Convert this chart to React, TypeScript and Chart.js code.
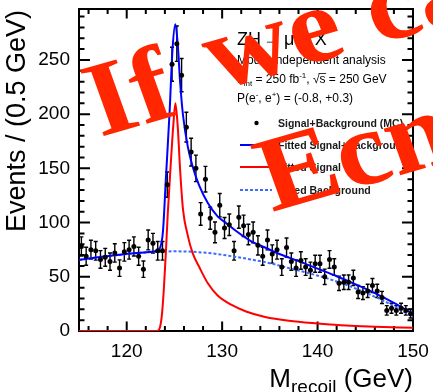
import React, { useEffect, useRef } from "react";
import { Chart, registerables } from "chart.js";

Chart.register(...registerables);

// ---------- data ----------
const binCenters = [
  115.25, 115.75, 116.25, 116.75, 117.25, 117.75, 118.25, 118.75, 119.25, 119.75,
  120.25, 120.75, 121.25, 121.75, 122.25, 122.75, 123.25, 123.75, 124.25, 124.75,
  125.25, 125.75, 126.25, 126.75, 127.25, 127.75, 128.25, 128.75, 129.25, 129.75,
  130.25, 130.75, 131.25, 131.75, 132.25, 132.75, 133.25, 133.75, 134.25, 134.75,
  135.25, 135.75, 136.25, 136.75, 137.25, 137.75, 138.25, 138.75, 139.25, 139.75,
  140.25, 140.75, 141.25, 141.75, 142.25, 142.75, 143.25, 143.75, 144.25, 144.75,
  145.25, 145.75, 146.25, 146.75, 147.25, 147.75, 148.25, 148.75, 149.25, 149.75,
];
const counts = [
  78, 69, 75, 74, 66, 68, 64, 72, 58, 73,
  75, 78, 69, 57, 84, 81, 74, 74, 135, 246,
  265, 236, 188, 165, 150, 108, 140, 104, 91, 116,
  95, 98, 74, 105, 97, 89, 91, 79, 69, 84,
  71, 75, 59, 77, 64, 58, 65, 59, 56, 62,
  62, 50, 66, 59, 44, 45, 45, 49, 36, 35,
  37, 42, 37, 31, 19, 21, 19, 21, 19, 16,
];

const totX = [115, 117, 119, 121, 123, 123.5, 123.8, 124.1, 124.5, 124.8, 125.1, 125.35, 125.6, 125.9, 126.4, 126.9, 127.6, 128.5, 129.5, 130.5, 131.5, 133, 134.5, 136, 138, 140, 142, 144, 146, 148, 150];
const totY = [65.5, 68, 70, 72, 73.5, 77, 92, 140, 203, 260, 283, 264, 229, 199, 170, 152, 134, 118, 106, 99, 92, 83, 77, 71, 64.5, 57.5, 50.5, 43, 35, 26, 16];

const sigX = [115, 123.2, 123.5, 123.7, 123.9, 124.1, 124.3, 124.6, 124.9, 125.1, 125.35, 125.6, 125.9, 126.4, 126.9, 127.6, 128.5, 129.5, 131, 132.5, 134.5, 137, 140, 143, 146, 150];
const sigY = [0, 0, 4, 16, 40, 72, 108, 152, 192, 210, 188, 148, 112, 88, 72, 59, 44, 33, 24, 18, 13, 9.5, 7, 5, 4, 3];

const bgX = [115, 117, 119, 121, 123, 125, 127, 129, 131, 133, 135, 137, 139, 141, 143, 145, 147, 149, 150];
const bgY = [65.5, 68, 70, 71.8, 73, 73.5, 73, 71.5, 69, 66, 62.5, 58, 53.5, 48.5, 42.5, 35.5, 27.5, 18, 13];

const xMajorTicks = [120, 130, 140, 150];
const xMinorTicks = [116, 118, 122, 124, 126, 128, 132, 134, 136, 138, 142, 144, 146, 148];
const yMajorTicks = [0, 50, 100, 150, 200, 250];
const yMinorTicks = [10, 20, 30, 40, 60, 70, 80, 90, 110, 120, 130, 140, 160, 170, 180, 190, 210, 220, 230, 240, 260, 270, 280, 290];

const SANS = "'Liberation Sans', Arial, Helvetica, sans-serif";
const SERIF = "'Liberation Serif', 'Times New Roman', serif";

const OV_SCALE = 1.117;
const OV_ANGLE = (-17.8 * Math.PI) / 180;

// draw a run of text pieces: [text, size, bold, dy]
function runText(ctx: CanvasRenderingContext2D, x: number, y: number, parts: [string, number, boolean?, number?][], color = "#000") {
  let cx = x;
  ctx.fillStyle = color;
  ctx.textBaseline = "alphabetic";
  ctx.textAlign = "left";
  for (const [s, size, bold, dy] of parts) {
    ctx.font = `${bold ? "bold " : ""}${size}px ${SANS}`;
    ctx.fillText(s, cx, y + (dy || 0));
    cx += ctx.measureText(s).width;
  }
  return cx;
}

function overlayText(ctx: CanvasRenderingContext2D, s: string, x: number, y: number) {
  ctx.save();
  ctx.translate(x, y);
  ctx.scale(OV_SCALE, 1);
  ctx.rotate(OV_ANGLE);
  ctx.fillText(s, 0, 0);
  ctx.restore();
  const w = ctx.measureText(s).width;
  return [x + OV_SCALE * w * Math.cos(OV_ANGLE), y + w * Math.sin(OV_ANGLE)];
}

const decor = {
  id: "decor",
  beforeDatasetsDraw(chart: any) {
    const { ctx, chartArea: a, scales } = chart;
    const xs = scales.x, ys = scales.y;
    ctx.save();
    ctx.strokeStyle = "#000";
    ctx.lineWidth = 2;
    ctx.strokeRect(a.left, a.top, a.right - a.left, a.bottom - a.top);
    ctx.beginPath();
    const xt = (v: number, len: number) => {
      const p = xs.getPixelForValue(v);
      ctx.moveTo(p, a.bottom); ctx.lineTo(p, a.bottom - len);
      ctx.moveTo(p, a.top); ctx.lineTo(p, a.top + len);
    };
    const yt = (v: number, len: number) => {
      const p = ys.getPixelForValue(v);
      ctx.moveTo(a.left, p); ctx.lineTo(a.left + len, p);
      ctx.moveTo(a.right, p); ctx.lineTo(a.right - len, p);
    };
    xMajorTicks.forEach((v) => xt(v, 9.5));
    xMinorTicks.forEach((v) => xt(v, 5));
    yMajorTicks.forEach((v) => yt(v, 11));
    yMinorTicks.forEach((v) => yt(v, 5.5));
    ctx.stroke();
    // error bars
    ctx.lineWidth = 1.4;
    ctx.beginPath();
    binCenters.forEach((c, i) => {
      const v = counts[i];
      const e = Math.sqrt(v);
      const px = xs.getPixelForValue(c);
      const t = ys.getPixelForValue(v + e);
      const b = ys.getPixelForValue(Math.max(0, v - e));
      ctx.moveTo(px, t); ctx.lineTo(px, b);
      ctx.moveTo(px - 2, t); ctx.lineTo(px + 2, t);
      ctx.moveTo(px - 2, b); ctx.lineTo(px + 2, b);
    });
    ctx.stroke();
    ctx.restore();
  },
  afterDraw(chart: any) {
    const { ctx } = chart;
    ctx.save();
    ctx.fillStyle = "#000";
    ctx.font = `27px ${SANS}`;
    ctx.save();
    ctx.translate(25, 10);
    ctx.rotate(-Math.PI / 2);
    ctx.textAlign = "right";
    ctx.textBaseline = "alphabetic";
    ctx.fillText("Events / (0.5 GeV)", 0, 0);
    ctx.restore();

    ctx.font = `26px ${SANS}`;
    const wM = ctx.measureText("M").width;
    const wG = ctx.measureText(" (GeV)").width;
    ctx.font = `19px ${SANS}`;
    const wR = ctx.measureText("recoil").width;
    const x0 = 413 - wM - wR - wG;
    runText(ctx, x0, 386.5, [["M", 26], ["recoil", 19, false, 6], [" (GeV)", 26]]);

    let xx = runText(ctx, 237, 45, [["ZH", 18]]);
    ctx.font = `18px ${SANS}`;
    xx += 2;
    ctx.fillText("\u2192", xx, 45);
    xx += ctx.measureText("\u2192").width + 3;
    runText(ctx, xx, 45, [["\u03bc", 18], ["+", 11, false, -7], ["\u03bc", 18], ["-", 11, false, -7], ["X", 18]]);

    runText(ctx, 237, 64, [["Model independent analysis", 12]]);
    let lx = runText(ctx, 237, 83, [["L", 12], ["int", 8, false, 3], [" = 250 fb", 12], ["-1", 8, false, -5], [", ", 12]]);
    ctx.font = `12px ${SANS}`;
    ctx.fillText("\u221a", lx, 83);
    lx += ctx.measureText("\u221a").width;
    const ws = ctx.measureText("s").width;
    ctx.fillText("s", lx, 83);
    ctx.strokeStyle = "#000";
    ctx.lineWidth = 0.8;
    ctx.beginPath();
    ctx.moveTo(lx - 1, 73.5);
    ctx.lineTo(lx + ws + 0.5, 73.5);
    ctx.stroke();
    runText(ctx, lx + ws, 83, [[" = 250 GeV", 12]]);
    runText(ctx, 237, 102, [["P(e", 12], ["-", 8, false, -5], [", e", 12], ["+", 8, false, -5], [") = (-0.8, +0.3)", 12]]);

    ctx.fillStyle = "#000";
    ctx.beginPath();
    ctx.arc(256.5, 123, 2.2, 0, Math.PI * 2);
    ctx.fill();
    ctx.lineWidth = 2;
    ctx.strokeStyle = "#0000ff";
    ctx.beginPath(); ctx.moveTo(240, 145); ctx.lineTo(272, 145); ctx.stroke();
    ctx.strokeStyle = "#ff0000";
    ctx.beginPath(); ctx.moveTo(240, 167); ctx.lineTo(272, 167); ctx.stroke();
    ctx.strokeStyle = "#3b6cff";
    ctx.setLineDash([3, 2]);
    ctx.beginPath(); ctx.moveTo(240, 190); ctx.lineTo(272, 190); ctx.stroke();
    ctx.setLineDash([]);
    runText(ctx, 278, 127, [["Signal+Background (MC)", 10.5, true]], "#1a1a1a");
    runText(ctx, 278, 149, [["Fitted Signal+Background", 10.5, true]], "#1a1a1a");
    runText(ctx, 278, 171, [["Fitted Signal", 10.5, true]], "#1a1a1a");
    runText(ctx, 278, 194, [["Fitted Background", 10.5, true]], "#1a1a1a");

    // red overlay text
    ctx.fillStyle = "rgb(255,38,0)";
    ctx.textAlign = "left";
    ctx.textBaseline = "alphabetic";
    ctx.font = `bold 106px ${SERIF}`;
    const [ex, ey] = overlayText(ctx, "If ", 100, 137);
    overlayText(ctx, "we can", ex + 8, ey - 15);
    overlayText(ctx, "Ecm", 272, 212);

    ctx.restore();
  },
};

export default function App() {
  const ref = useRef<HTMLCanvasElement>(null);
  useEffect(() => {
    document.body.style.margin = "0";
    const canvas = ref.current!;
    const pts = (xs: number[], ys: number[]) => xs.map((x, i) => ({ x, y: ys[i] }));
    const chart = new Chart(canvas, {
      type: "line",
      data: {
        datasets: [
          {
            label: "Signal+Background (MC)",
            data: pts(binCenters, counts),
            showLine: false,
            pointRadius: 2.5,
            pointBackgroundColor: "#000",
            pointBorderWidth: 0,
            order: 0,
          },
          {
            label: "Fitted Signal+Background",
            data: pts(totX, totY),
            borderColor: "#0000ff",
            borderWidth: 2,
            pointRadius: 0,
            cubicInterpolationMode: "monotone",
            order: 1,
          },
          {
            label: "Fitted Signal",
            data: pts(sigX, sigY),
            borderColor: "#ff0000",
            borderWidth: 2,
            pointRadius: 0,
            cubicInterpolationMode: "monotone",
            order: 2,
          },
          {
            label: "Fitted Background",
            data: pts(bgX, bgY),
            borderColor: "#3b6cff",
            borderWidth: 2,
            borderDash: [3, 2],
            pointRadius: 0,
            cubicInterpolationMode: "monotone",
            order: 3,
          },
        ],
      } as any,
      options: {
        responsive: false,
        animation: false,
        layout: { padding: { top: 9, right: 20, left: 0, bottom: 0 } },
        plugins: { legend: { display: false }, tooltip: { enabled: false } },
        scales: {
          x: {
            type: "linear",
            min: 115,
            max: 150,
            grid: { display: false, drawTicks: false },
            border: { display: false },
            ticks: { font: { family: SANS, size: 19 }, color: "#000", padding: 9, maxRotation: 0 },
            afterBuildTicks: (s: any) => { s.ticks = xMajorTicks.map((v) => ({ value: v })); },
            afterFit: (s: any) => { s.height = 61; s.paddingLeft = 0; s.paddingRight = 0; },
          },
          y: {
            type: "linear",
            min: 0,
            max: 297,
            grid: { display: false, drawTicks: false },
            border: { display: false },
            ticks: { font: { family: SANS, size: 19 }, color: "#000", padding: 9 },
            afterBuildTicks: (s: any) => { s.ticks = yMajorTicks.map((v) => ({ value: v })); },
            afterFit: (s: any) => { s.width = 79; s.paddingTop = 0; s.paddingBottom = 0; },
          },
        },
      } as any,
      plugins: [decor],
    });
    return () => chart.destroy();
  }, []);
  return <canvas ref={ref} width={433} height={392} style={{ display: "block" }} />;
}
